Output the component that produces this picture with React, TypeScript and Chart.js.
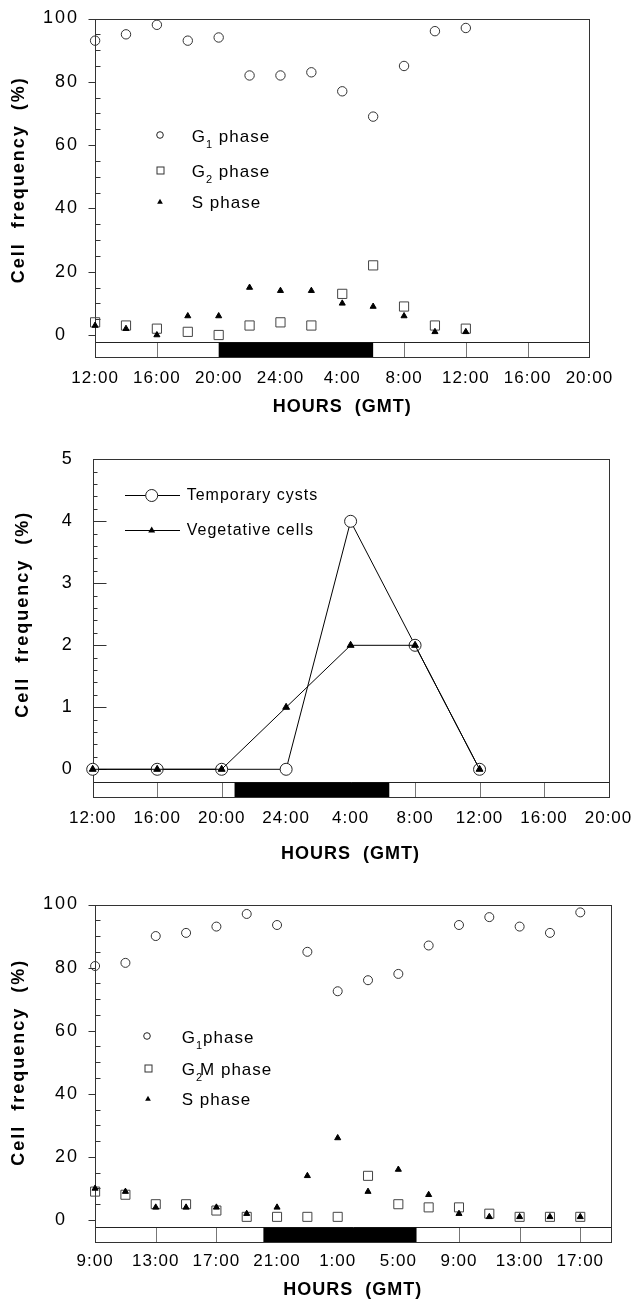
import React, { useEffect, useRef } from 'react';
import { Chart, registerables } from 'chart.js';

Chart.register(...registerables);

const FONT = "'Liberation Sans', Arial, Helvetica, sans-serif";

// ---------------- Panel A (top) ----------------
const hoursA = [0, 2, 4, 6, 8, 10, 12, 14, 16, 18, 20, 22, 24];
const g1A = [93, 95, 98, 93, 94, 82, 82, 83, 77, 69, 85, 96, 97];
const g2A = [4, 3, 2, 1, 0, 3, 4, 3, 13, 22, 9, 3, 2];
const sA = [3, 2, 0, 6, 6, 15, 14, 14, 10, 9, 6, 1, 1];
const xTicksA = [0, 4, 8, 12, 16, 20, 24, 28, 32];
const xLabelsA = ['12:00', '16:00', '20:00', '24:00', '4:00', '8:00', '12:00', '16:00', '20:00'];
const yTicksA = [0, 20, 40, 60, 80, 100];
const darkA = [8, 18];

// ---------------- Panel B (middle) ----------------
const hoursB = [0, 4, 8, 12, 16, 20, 24];
const cystsB = [0, 0, 0, 0, 4, 2, 0];
const vegB = [0, 0, 0, 1, 2, 2, 0];
const xTicksB = [0, 4, 8, 12, 16, 20, 24, 28, 32];
const xLabelsB = ['12:00', '16:00', '20:00', '24:00', '4:00', '8:00', '12:00', '16:00', '20:00'];
const yTicksB = [0, 1, 2, 3, 4, 5];
const darkB = [8.8, 18.4];

// ---------------- Panel C (bottom) ----------------
const hoursC = [0, 2, 4, 6, 8, 10, 12, 14, 16, 18, 20, 22, 24, 26, 28, 30, 32];
const g1C = [80.5, 81.5, 90, 91, 93, 97, 93.5, 85, 72.5, 76, 78, 87, 93.5, 96, 93, 91, 97.5];
const g2mC = [9, 8, 5, 5, 3, 1, 1, 1, 1, 14, 5, 4, 4, 2, 1, 1, 1];
const sC = [10, 9, 4, 4, 4, 2, 4, 14, 26, 9, 16, 8, 2, 1, 1, 1, 1];
const xTicksC = [0, 4, 8, 12, 16, 20, 24, 28, 32];
const xLabelsC = ['9:00', '13:00', '17:00', '21:00', '1:00', '5:00', '9:00', '13:00', '17:00'];
const yTicksC = [0, 20, 40, 60, 80, 100];
const darkC = [11.1, 21.2];

const pts = (xs: number[], ys: number[]) => xs.map((x, i) => ({ x, y: ys[i] }));

type Part = { t: string; sub?: boolean; adv?: number };

function richText(ctx: CanvasRenderingContext2D, x: number, y: number, parts: Part[], size: number) {
  let cx = x;
  ctx.fillStyle = '#000';
  ctx.textAlign = 'left';
  ctx.textBaseline = 'middle';
  for (const p of parts) {
    const fs = p.sub ? Math.round(size * 0.65) : size;
    ctx.font = `${fs}px ${FONT}`;
    ctx.fillText(p.t, cx, p.sub ? y + size * 0.45 : y);
    cx += ctx.measureText(p.t).width + (p.adv ?? 0);
  }
}

function circ(ctx: CanvasRenderingContext2D, x: number, y: number, r: number, fill?: string) {
  ctx.beginPath();
  ctx.arc(x, y, r, 0, Math.PI * 2);
  if (fill) { ctx.fillStyle = fill; ctx.fill(); }
  ctx.strokeStyle = '#222';
  ctx.lineWidth = 1;
  ctx.stroke();
}
function sq(ctx: CanvasRenderingContext2D, x: number, y: number, h: number) {
  ctx.strokeStyle = '#333';
  ctx.lineWidth = 1;
  ctx.strokeRect(x - h, y - h, 2 * h, 2 * h);
}
function tri(ctx: CanvasRenderingContext2D, x: number, y: number, r: number) {
  ctx.beginPath();
  ctx.moveTo(x, y - r);
  ctx.lineTo(x + r * 0.866, y + r * 0.5);
  ctx.lineTo(x - r * 0.866, y + r * 0.5);
  ctx.closePath();
  ctx.fillStyle = '#000';
  ctx.fill();
}

const legendA = (ctx: CanvasRenderingContext2D) => {
  circ(ctx, 160, 135, 3.3);
  richText(ctx, 191.7, 137.5, [{ t: 'G' }, { t: '1', sub: true }, { t: ' phase' }], 17);
  sq(ctx, 160.5, 170.5, 3.5);
  richText(ctx, 191.7, 172.5, [{ t: 'G' }, { t: '2', sub: true }, { t: ' phase' }], 17);
  tri(ctx, 160, 202, 3.3);
  richText(ctx, 191.7, 203.5, [{ t: 'S phase' }], 17);
};

const legendB = (ctx: CanvasRenderingContext2D) => {
  ctx.strokeStyle = '#000';
  ctx.lineWidth = 1;
  ctx.beginPath();
  ctx.moveTo(125, 75.5); ctx.lineTo(180, 75.5);
  ctx.moveTo(125, 110.5); ctx.lineTo(180, 110.5);
  ctx.stroke();
  circ(ctx, 151.7, 75.5, 6, '#fff');
  tri(ctx, 151.7, 110.5, 4);
  richText(ctx, 186.7, 75.5, [{ t: 'Temporary cysts' }], 16);
  richText(ctx, 186.7, 110.5, [{ t: 'Vegetative cells' }], 16);
};

const legendC = (ctx: CanvasRenderingContext2D) => {
  circ(ctx, 147, 171, 3.3);
  richText(ctx, 181.7, 173, [{ t: 'G' }, { t: '1', sub: true }, { t: 'phase' }], 17);
  sq(ctx, 148.5, 203.5, 3.5);
  richText(ctx, 181.7, 205, [{ t: 'G' }, { t: '2', sub: true, adv: -3 }, { t: 'M phase' }], 17);
  tri(ctx, 148, 234, 3.3);
  richText(ctx, 181.7, 235.5, [{ t: 'S phase' }], 17);
};

interface PanelSpec {
  top: number; height: number;
  padTop: number; padRight: number; yAxisW: number; xAxisH: number;
  xMin: number; xMax: number; yMin: number; yMax: number;
  xTicks: number[]; xLabels: string[]; yTicks: number[]; yLabel: (v: number) => string;
  xTickPad: number; titlePadB: number; yTickPad: number;
  stripY: number; dark: number[];
  majorLen: number; majorOut: boolean; minorStep: number; minorLen: number;
  yTitleX: number; yTitleShift: number;
  datasets: any[];
  legend: (ctx: CanvasRenderingContext2D) => void;
}

const lab100 = (v: number) => (v === 0 ? '0\u2007' : String(v));

const specA: PanelSpec = {
  top: 0, height: 420, padTop: 18.5, padRight: 46.6, yAxisW: 95.1, xAxisH: 63,
  xMin: 0, xMax: 32, yMin: -6.95, yMax: 100,
  xTicks: xTicksA, xLabels: xLabelsA, yTicks: yTicksA, yLabel: lab100,
  xTickPad: 10.8, titlePadB: 2.2, yTickPad: 16,
  stripY: -2.1, dark: darkA,
  majorLen: 7, majorOut: true, minorStep: 5, minorLen: 5, yTitleX: 19, yTitleShift: 3,
  datasets: [
    { label: 'S phase', data: pts(hoursA, sA), pointStyle: 'triangle', pointRadius: 3.5,
      pointBackgroundColor: '#000', pointBorderColor: '#000', pointBorderWidth: 1, clip: false },
    { label: 'G2 phase', data: pts(hoursA, g2A), pointStyle: 'rect', pointRadius: 6.5,
      pointBackgroundColor: 'rgba(0,0,0,0)', pointBorderColor: '#444', pointBorderWidth: 1, clip: false },
    { label: 'G1 phase', data: pts(hoursA, g1A), pointStyle: 'circle', pointRadius: 4.7,
      pointBackgroundColor: 'rgba(0,0,0,0)', pointBorderColor: '#333', pointBorderWidth: 1, clip: false },
  ],
  legend: legendA,
};

const specB: PanelSpec = {
  top: 420, height: 445, padTop: 39.3, padRight: 27.5, yAxisW: 92.7, xAxisH: 68.3,
  xMin: 0, xMax: 32, yMin: -0.442, yMax: 5,
  xTicks: xTicksB, xLabels: xLabelsB, yTicks: yTicksB, yLabel: (v) => String(v),
  xTickPad: 11.1, titlePadB: 0.2, yTickPad: 19,
  stripY: -0.2, dark: darkB,
  majorLen: 13, majorOut: false, minorStep: 0.2, minorLen: 4, yTitleX: 23, yTitleShift: 0,
  datasets: [
    { label: 'Vegetative cells', data: pts(hoursB, vegB), showLine: true, borderColor: '#000', borderWidth: 1,
      pointStyle: 'triangle', pointRadius: 4, pointBackgroundColor: '#000', pointBorderColor: '#000',
      pointBorderWidth: 1, tension: 0, clip: false },
    { label: 'Temporary cysts', data: pts(hoursB, cystsB), showLine: true, borderColor: '#000', borderWidth: 1,
      pointStyle: 'circle', pointRadius: 6, pointBackgroundColor: '#fff', pointBorderColor: '#222',
      pointBorderWidth: 1, tension: 0, clip: false },
  ],
  legend: legendB,
};

const specC: PanelSpec = {
  top: 865, height: 436, padTop: 39.5, padRight: 25.4, yAxisW: 95.1, xAxisH: 59.3,
  xMin: 0, xMax: 34, yMin: -6.88, yMax: 100,
  xTicks: xTicksC, xLabels: xLabelsC, yTicks: yTicksC, yLabel: lab100,
  xTickPad: 9.6, titlePadB: 0, yTickPad: 16,
  stripY: -2.31, dark: darkC,
  majorLen: 7, majorOut: true, minorStep: 5, minorLen: 5, yTitleX: 19, yTitleShift: 0,
  datasets: [
    { label: 'S phase', data: pts(hoursC, sC), pointStyle: 'triangle', pointRadius: 3.5,
      pointBackgroundColor: '#000', pointBorderColor: '#000', pointBorderWidth: 1, clip: false },
    { label: 'G2M phase', data: pts(hoursC, g2mC), pointStyle: 'rect', pointRadius: 6.4,
      pointBackgroundColor: 'rgba(0,0,0,0)', pointBorderColor: '#444', pointBorderWidth: 1, clip: false },
    { label: 'G1 phase', data: pts(hoursC, g1C), pointStyle: 'circle', pointRadius: 4.5,
      pointBackgroundColor: 'rgba(0,0,0,0)', pointBorderColor: '#333', pointBorderWidth: 1, clip: false },
  ],
  legend: legendC,
};

function decorPlugin(s: PanelSpec) {
  return {
    id: 'decor',
    beforeDraw(chart: any) {
      const ctx = chart.ctx;
      ctx.save();
      ctx.fillStyle = '#fff';
      ctx.fillRect(0, 0, chart.width, chart.height);
      ctx.restore();
      ctx.letterSpacing = '1px';
    },
    beforeDatasetsDraw(chart: any) {
      const { ctx, chartArea: a } = chart;
      const x = chart.scales.x, y = chart.scales.y;
      ctx.save();
      ctx.lineWidth = 1;
      const L = Math.round(a.left) + 0.5, R = Math.round(a.right) + 0.5;
      const T = Math.round(a.top) + 0.5, B = Math.round(a.bottom) + 0.5;
      const sy = Math.round(y.getPixelForValue(s.stripY)) + 0.5;
      ctx.strokeStyle = '#777';
      ctx.beginPath();
      for (const t of s.xTicks) {
        const px = Math.round(x.getPixelForValue(t)) + 0.5;
        if (px > L + 1 && px < R - 1) { ctx.moveTo(px, sy); ctx.lineTo(px, B); }
      }
      ctx.stroke();
      ctx.strokeStyle = '#222';
      ctx.beginPath();
      ctx.moveTo(L, sy); ctx.lineTo(R, sy);
      ctx.stroke();
      const x0 = x.getPixelForValue(s.dark[0]), x1 = x.getPixelForValue(s.dark[1]);
      ctx.fillStyle = '#000';
      ctx.fillRect(x0, sy, x1 - x0, B - sy);
      ctx.strokeStyle = '#333';
      ctx.strokeRect(L, T, R - L, B - T);
      ctx.beginPath();
      for (const v of s.yTicks) {
        const py = Math.round(y.getPixelForValue(v)) + 0.5;
        if (s.majorOut) { ctx.moveTo(L - s.majorLen, py); ctx.lineTo(L, py); }
        else { ctx.moveTo(L, py); ctx.lineTo(L + s.majorLen, py); }
      }
      const first = s.yTicks[0], last = s.yTicks[s.yTicks.length - 1];
      for (let k = 1; first + k * s.minorStep < last - 1e-6; k++) {
        const v = first + k * s.minorStep;
        if (s.yTicks.some((t) => Math.abs(t - v) < 1e-6)) continue;
        const py = Math.round(y.getPixelForValue(v)) + 0.5;
        ctx.moveTo(L, py); ctx.lineTo(L + s.minorLen, py);
      }
      ctx.stroke();
      ctx.restore();
    },
    afterDatasetsDraw(chart: any) {
      chart.ctx.letterSpacing = '2px';
    },
    afterDraw(chart: any) {
      const ctx = chart.ctx;
      const y = chart.scales.y;
      ctx.save();
      ctx.letterSpacing = '2px';
      const cy = (y.getPixelForValue(s.yTicks[0]) + y.getPixelForValue(s.yTicks[s.yTicks.length - 1])) / 2 + s.yTitleShift;
      ctx.translate(s.yTitleX, cy);
      ctx.rotate(-Math.PI / 2);
      ctx.font = `bold 18px ${FONT}`;
      ctx.textAlign = 'center';
      ctx.textBaseline = 'middle';
      ctx.fillStyle = '#000';
      ctx.fillText('Cell  frequency  (%)', 0, 0);
      ctx.restore();
      ctx.save();
      ctx.letterSpacing = '1px';
      s.legend(ctx);
      ctx.restore();
    },
  };
}

function buildConfig(s: PanelSpec): any {
  return {
    type: 'scatter',
    data: { datasets: s.datasets },
    options: {
      responsive: false,
      animation: false,
      events: [],
      layout: { padding: { top: s.padTop, right: s.padRight, left: 0, bottom: 0 } },
      plugins: { legend: { display: false }, tooltip: { enabled: false }, title: { display: false } },
      scales: {
        x: {
          type: 'linear', position: 'bottom', min: s.xMin, max: s.xMax,
          grid: { display: false, drawTicks: false }, border: { display: false },
          afterBuildTicks: (sc: any) => { sc.ticks = s.xTicks.map((v) => ({ value: v })); },
          afterFit: (sc: any) => { sc.height = s.xAxisH; sc.paddingLeft = 0; sc.paddingRight = 0; },
          ticks: {
            autoSkip: false, maxRotation: 0, minRotation: 0, padding: s.xTickPad, color: '#000',
            font: { family: FONT, size: 17 },
            callback: (_v: any, i: number) => s.xLabels[i],
          },
          title: {
            display: true, text: 'HOURS  (GMT)', color: '#000',
            font: { family: FONT, size: 18, weight: 'bold' },
            padding: { top: 0, bottom: s.titlePadB },
          },
        },
        y: {
          type: 'linear', position: 'left', min: s.yMin, max: s.yMax,
          grid: { display: false, drawTicks: false }, border: { display: false },
          afterBuildTicks: (sc: any) => { sc.ticks = s.yTicks.map((v) => ({ value: v })); },
          afterFit: (sc: any) => { sc.width = s.yAxisW; sc.paddingTop = 0; sc.paddingBottom = 0; },
          ticks: {
            z: 1, padding: s.yTickPad, color: '#000',
            font: { family: FONT, size: 18 },
            callback: (v: any) => s.yLabel(Number(v)),
          },
        },
      },
    },
    plugins: [decorPlugin(s)],
  };
}

function Panel({ spec }: { spec: PanelSpec }) {
  const ref = useRef<HTMLCanvasElement>(null);
  useEffect(() => {
    if (!ref.current) return;
    const chart = new Chart(ref.current, buildConfig(spec));
    return () => chart.destroy();
  }, [spec]);
  return (
    <canvas
      ref={ref}
      width={636}
      height={spec.height}
      style={{ position: 'absolute', left: 0, top: spec.top, width: 636, height: spec.height, display: 'block' }}
    />
  );
}

export default function App() {
  return (
    <div style={{ position: 'absolute', left: 0, top: 0, width: 636, height: 1301, background: '#fff', overflow: 'hidden' }}>
      <Panel spec={specA} />
      <Panel spec={specB} />
      <Panel spec={specC} />
    </div>
  );
}
